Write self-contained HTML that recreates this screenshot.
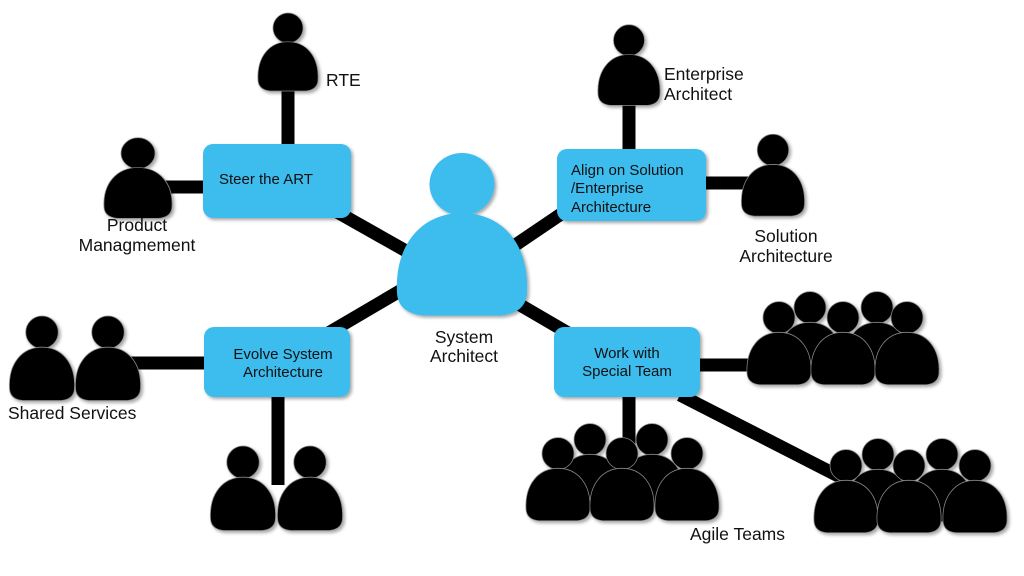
<!DOCTYPE html>
<html><head><meta charset="utf-8"><style>
html,body{margin:0;padding:0;background:#fff;}
svg{display:block;}
text{font-family:"Liberation Sans",sans-serif;fill:#111;}
</style></head><body>
<svg width="1024" height="576" viewBox="0 0 1024 576" xmlns="http://www.w3.org/2000/svg">
<defs>
<g id="p">
<circle cx="0" cy="-35" r="25"/>
<path d="M-50,52 C-52,12 -30,-12 0,-12 C30,-12 52,12 50,52 Q49,68 30,70 L-30,70 Q-49,68 -50,52 Z"/>
</g>
<filter id="sh" x="-20%" y="-20%" width="140%" height="140%"><feDropShadow dx="2" dy="2" stdDeviation="1.5" flood-color="#000" flood-opacity="0.35"/></filter>
</defs>
<g stroke="#000" stroke-width="13" fill="none">
<line x1="288" y1="70" x2="288" y2="150"/>
<line x1="160" y1="187" x2="210" y2="187"/>
<line x1="330" y1="208" x2="415" y2="256"/>
<line x1="629" y1="55" x2="629" y2="152"/>
<line x1="700" y1="183" x2="760" y2="183"/>
<line x1="570" y1="208" x2="505" y2="252"/>
<line x1="405" y1="288" x2="325" y2="335"/>
<line x1="120" y1="363" x2="210" y2="363"/>
<line x1="278" y1="390" x2="278" y2="485"/>
<line x1="515" y1="302" x2="575" y2="337"/>
<line x1="695" y1="365" x2="765" y2="365"/>
<line x1="629" y1="390" x2="629" y2="460"/>
<line x1="680" y1="395" x2="850" y2="482"/>
</g>
<g fill="#000" stroke="#888" stroke-width="1.2" filter="url(#sh)">
<use href="#p" transform="translate(288,49) scale(0.6)"/>
<use href="#p" transform="translate(138,175) scale(0.68,0.62)"/>
<use href="#p" transform="translate(629,62) scale(0.62)"/>
<use href="#p" transform="translate(773,172) scale(0.63)"/>
<use href="#p" transform="translate(42,355) scale(0.65)"/>
<use href="#p" transform="translate(108,355) scale(0.65)"/>
<use href="#p" transform="translate(243,485) scale(0.65)"/>
<use href="#p" transform="translate(310,485) scale(0.65)"/>
<use href="#p" transform="translate(810,330) scale(0.64)"/>
<use href="#p" transform="translate(877,330) scale(0.64)"/>
<use href="#p" transform="translate(779,340) scale(0.64)"/>
<use href="#p" transform="translate(843,340) scale(0.64)"/>
<use href="#p" transform="translate(907,340) scale(0.64)"/>
<use href="#p" transform="translate(590,462) scale(0.64)"/>
<use href="#p" transform="translate(652,462) scale(0.64)"/>
<use href="#p" transform="translate(558,476) scale(0.64)"/>
<use href="#p" transform="translate(622,476) scale(0.64)"/>
<use href="#p" transform="translate(687,476) scale(0.64)"/>
<use href="#p" transform="translate(878,477) scale(0.64)"/>
<use href="#p" transform="translate(942,477) scale(0.64)"/>
<use href="#p" transform="translate(846,488) scale(0.64)"/>
<use href="#p" transform="translate(909,488) scale(0.64)"/>
<use href="#p" transform="translate(975,488) scale(0.64)"/>
</g>
<g fill="#3dbcee" filter="url(#sh)">
<use href="#p" transform="translate(462,228) scale(1.3,1.25)"/>
<rect x="203" y="144" width="148" height="74" rx="10"/>
<rect x="557" y="149" width="149" height="72" rx="10"/>
<rect x="204" y="327" width="146" height="70" rx="10"/>
<rect x="554" y="327" width="146" height="70" rx="10"/>
</g>
<g font-size="15">
<text x="219" y="184">Steer the ART</text>
<text x="571" y="175">Align on Solution</text>
<text x="571" y="193">/Enterprise</text>
<text x="571" y="212">Architecture</text>
<text x="283" y="359" text-anchor="middle">Evolve System</text>
<text x="283" y="377" text-anchor="middle">Architecture</text>
<text x="627" y="358" text-anchor="middle">Work with</text>
<text x="627" y="376" text-anchor="middle">Special Team</text>
</g>
<g font-size="17.5">
<text x="326" y="86">RTE</text>
<text x="664" y="80">Enterprise</text>
<text x="664" y="100">Architect</text>
<text x="137" y="231" text-anchor="middle">Product</text>
<text x="137" y="251" text-anchor="middle">Managmement</text>
<text x="786" y="242" text-anchor="middle">Solution</text>
<text x="786" y="262" text-anchor="middle">Architecture</text>
<text x="464" y="343" text-anchor="middle">System</text>
<text x="464" y="362" text-anchor="middle">Architect</text>
<text x="8" y="419">Shared Services</text>
<text x="690" y="540">Agile Teams</text>
</g>
</svg>
</body></html>
